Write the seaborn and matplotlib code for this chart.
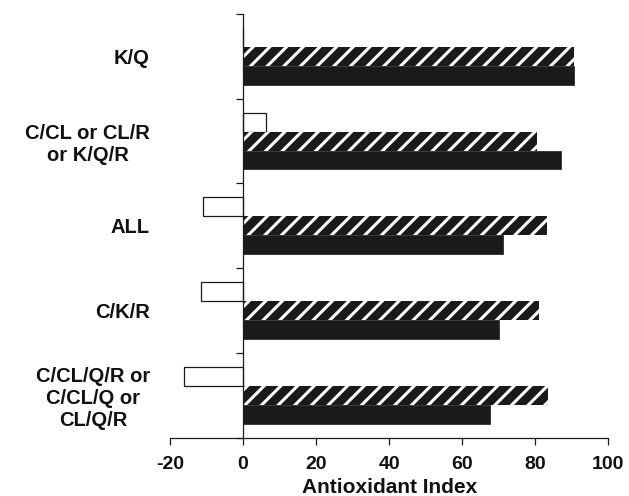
import matplotlib
matplotlib.use("Agg")
import matplotlib.pyplot as plt
import seaborn as sns
import pandas as pd
import numpy as np

categories = ["K/Q", "C/CL or CL/R\nor K/Q/R", "ALL", "C/K/R", "C/CL/Q/R or\nC/CL/Q or\nCL/Q/R"]
series_names = ["Open", "Hatched", "Solid"]
open_vals = [0.0, 6.2, -11.1, -11.6, -16.2]
hatched_vals = [90.6, 80.6, 83.1, 81.1, 83.6]
solid_vals = [90.6, 87.0, 71.2, 70.0, 67.6]
x_ticks = [-20, 0, 20, 40, 60, 80, 100]
x_label = "Antioxidant Index"

rows = []
for name, vals in zip(series_names, [open_vals, hatched_vals, solid_vals]):
    for c, v in zip(categories, vals):
        rows.append({"Category": c, "Series": name, "Value": v})
df = pd.DataFrame(rows)

sns.set_theme(style="white")
plt.rcParams["font.family"] = ["Liberation Sans", "DejaVu Sans"]
plt.rcParams["font.weight"] = "bold"
plt.rcParams["hatch.linewidth"] = 2.2
plt.rcParams["text.color"] = "#111111"
plt.rcParams["xtick.color"] = "#111111"
plt.rcParams["ytick.color"] = "#111111"

fig = plt.figure(figsize=(6.29, 4.96), dpi=100)
ax = fig.add_axes([170/629, 1-437.5/496, (608.3-170)/629, (437.5-14)/496])

sns.barplot(data=df, y="Category", x="Value", hue="Series", order=categories,
            hue_order=series_names, palette=["white", "#1a1a1a", "#1a1a1a"],
            width=0.67, orient="h", legend=False, ax=ax, saturation=1)

for p in ax.containers[0]:
    p.set_edgecolor("#1a1a1a")
    p.set_linewidth(0.9)
for p in ax.containers[1]:
    p.set_facecolor("#1a1a1a")
    p.set_edgecolor("white")
    p.set_hatch("//")
    p.set_linewidth(0)
for p in ax.containers[2]:
    p.set_edgecolor("#1a1a1a")
    p.set_linewidth(0.5)

ax.set_xlim(-20, 100)
ax.set_ylim(4.5, -0.5)
ax.set_xticks(x_ticks)
ax.set_xticklabels([str(t) for t in x_ticks], fontsize=14, fontweight="bold")
ax.set_xlabel(x_label, fontsize=15, fontweight="bold", labelpad=4, color="#111111")
ax.set_ylabel("")

ax.spines["top"].set_visible(False)
ax.spines["right"].set_visible(False)
ax.spines["left"].set_position(("data", 0))
for s in ["left", "bottom"]:
    ax.spines[s].set_color("#1a1a1a")
    ax.spines[s].set_linewidth(0.9)

ax.set_yticks(range(len(categories)))
ax.set_yticklabels(categories, fontsize=14.5, fontweight="bold")
ax.set_yticks(np.arange(-0.5, len(categories), 1.0), minor=True)
ax.tick_params(axis="y", which="major", length=0, pad=67)
ax.tick_params(axis="y", which="minor", length=5, width=0.9, color="#1a1a1a", direction="out", left=True)
ax.tick_params(axis="x", which="major", length=5, width=0.9, color="#1a1a1a", direction="out", bottom=True, pad=8)
for lbl in ax.get_yticklabels():
    lbl.set_multialignment("center")
ax.grid(False)

fig.savefig("out.png", dpi=100)
